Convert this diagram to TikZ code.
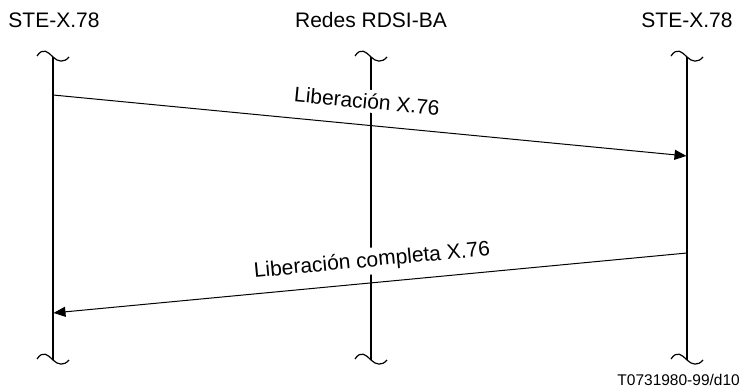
\documentclass[tikz,border=0pt]{standalone}
\usepackage{fontspec}
\setmainfont{Liberation Sans}
\usetikzlibrary{arrows.meta}
\begin{document}
\begin{tikzpicture}[x=1pt,y=-1pt,
  hdr/.style={font=\fontsize{21}{24}\selectfont, inner sep=0pt, anchor=base},
  msglabel/.style={font=\fontsize{21}{24}\selectfont, fill=white, inner sep=3.5pt},
  lifeline/.style={line width=1.8pt},
  msg/.style={line width=1pt, -{Triangle[length=12pt,width=10pt]}, shorten >=0.5pt},
  tilde/.style={line width=1.2pt}
]
\useasboundingbox (0,0) rectangle (742,390);
% headers
\node[hdr] (hA) at (54,27.5) {STE-X.78};
\node[hdr] (hB) at (371,27.5) {Redes RDSI-BA};
\node[hdr] (hC) at (687,27.5) {STE-X.78};
% lifeline ends
\foreach \n/\x in {A/53,B/371,C/687}{
  \coordinate (top\n) at (\x,57);
  \coordinate (bot\n) at (\x,360);
  \draw[lifeline] (top\n) -- (bot\n);
  \draw[tilde] ([xshift=-16pt,yshift=1pt]top\n) .. controls +(6,-9) and +(-5,-5) .. (top\n) .. controls +(5,5) and +(-5,6) .. ([xshift=16pt]top\n);
  \draw[tilde] ([xshift=-16pt,yshift=1pt]bot\n) .. controls +(6,-9) and +(-5,-5) .. (bot\n) .. controls +(5,5) and +(-5,6) .. ([xshift=16pt]bot\n);
}
% message endpoints
\coordinate (m1s) at (53,95);
\coordinate (m1e) at (687,156);
\coordinate (m2s) at (687,253);
\coordinate (m2e) at (53,313);
\draw[msg] (m1s) -- (m1e);
\draw[msg] (m2s) -- (m2e);
\node[msglabel, rotate=-5.5] (l1) at (367,101) {Liberación X.76};
\node[msglabel, rotate=5.4] (l2) at (372,261) {Liberación completa X.76};
% footer
\node[font=\fontsize{15.5}{18}\selectfont, inner sep=0pt, anchor=base east] (ft) at (740,385) {T0731980-99/d10};
\end{tikzpicture}
\end{document}
